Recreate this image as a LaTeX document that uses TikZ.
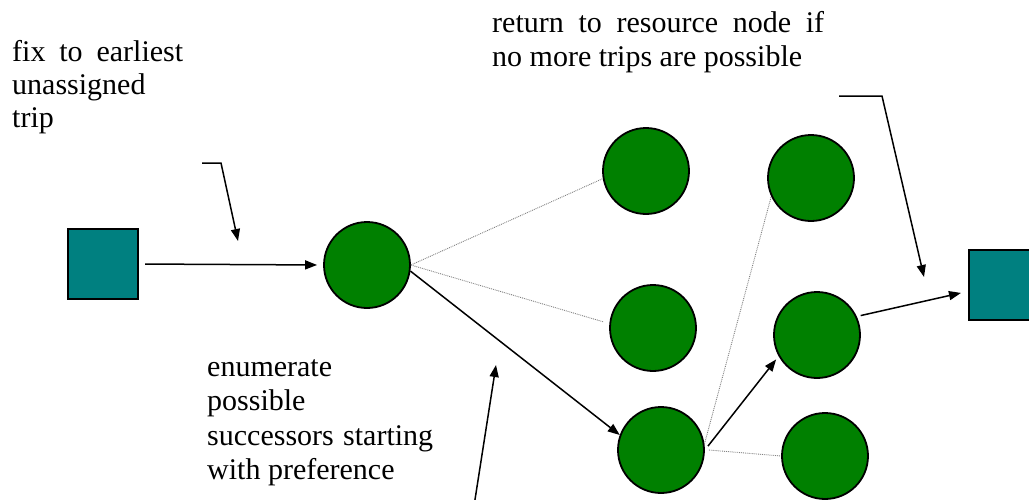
\documentclass[tikz,border=0pt]{standalone}
\usepackage{fontspec}
\setmainfont{Liberation Serif}
\usetikzlibrary{arrows.meta}
\definecolor{nodegreen}{HTML}{008000}
\definecolor{resteal}{HTML}{008080}
\tikzset{
  trip/.style={circle, draw=black, line width=1.8pt, fill=nodegreen, minimum size=86pt, inner sep=0pt},
  resource/.style={rectangle, draw=black, line width=2.4pt, fill=resteal, minimum size=70pt, inner sep=0pt},
  flow/.style={line width=1.5pt, -{Triangle[length=12pt,width=9pt]}},
  option/.style={densely dotted, line width=0.9pt, gray},
  callout/.style={line width=1.5pt, -{Triangle[length=12pt,width=9pt]}},
  lbl/.style={anchor=north west, inner sep=0pt, align=left},
  lblfont/.style={font=\fontsize{30}{#1}\selectfont}
}
\begin{document}
\begin{tikzpicture}[x=1pt,y=-1pt]
\useasboundingbox (0,0) rectangle (1029,499);
% resource nodes
\node[resource] (s1) at (103,264) {};
\node[resource] (s2) at (1004,285) {};
% trip nodes
\node[trip] (c1) at (367,265) {};
\node[trip] (a) at (646,171) {};
\node[trip] (b) at (653,328) {};
\node[trip] (c) at (661,450) {};
\node[trip] (d) at (811,178) {};
\node[trip] (e) at (817,335) {};
\node[trip] (f) at (825,456) {};
% options (dotted)
\draw[option] (c1.east) -- (a.190);
\draw[option] (c1.east) -- ([xshift=-6pt]b.172);
\draw[option] (c.8) -- (d.205);
\draw[option] ([xshift=4pt]c.east) -- (f.west);
% chosen path
\draw[flow, shorten <=6pt, shorten >=6pt] (s1.east) -- (c1.west);
\draw[flow] (c1.-8) -- (c.160);
\draw[flow, shorten <=5pt, shorten >=4pt] (c.east) -- (e.209);
\draw[flow, shorten <=4pt, shorten >=7pt] (e.25) -- (s2.190);
% labels
\node[lbl, lblfont=33] (fixlbl) at (12,40.5) {\makebox[171pt][s]{\vphantom{l}fix to earliest}\\unassigned\\trip};
\node[lbl, lblfont=33.5] (retlbl) at (492,11.5) {\makebox[332pt][s]{\vphantom{l}return to resource node if}\\no more trips are possible};
\node[lbl, lblfont=34.5] (enumlbl) at (207,355) {\vphantom{l}enumerate\\possible\\\makebox[226pt][s]{successors starting}\\with preference};
% callouts
\coordinate (fixstart) at (202,163);
\coordinate (fixbend) at (221,163);
\coordinate (fixtip) at (238,241);
\draw[callout] (fixstart) -- (fixbend) -- (fixtip);
\coordinate (retstart) at (839,96);
\coordinate (retbend) at (882,96);
\coordinate (rettip) at (924,277);
\draw[callout] (retstart) -- (retbend) -- (rettip);
\coordinate (enumstart) at (474,506);
\coordinate (enumtip) at (496,365);
\draw[callout] (enumstart) -- (enumtip);
\end{tikzpicture}
\end{document}
